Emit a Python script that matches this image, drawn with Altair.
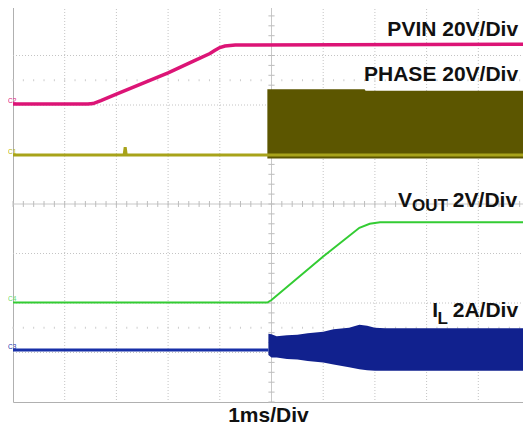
import altair as alt
import pandas as pd

# ---- traces, in screen divisions (x: 0..10 div, y: 0..8 div) ----
pvin_x = [0, 1.45, 1.55, 1.7, 2.0, 3.0, 3.5, 3.81, 3.9, 4.0, 4.1, 4.3, 10]
pvin_y = [6.02, 6.02, 6.03, 6.09, 6.22, 6.65, 6.89, 7.04, 7.1, 7.16, 7.19, 7.21, 7.23]

phase_x = [0, 2.15, 2.17, 2.19, 4.92, 10]
phase_y = [4.99, 4.99, 5.15, 4.99, 4.99, 4.99]
phase_band_x = [4.92, 6.8, 6.82, 10]
phase_band_top = [6.32, 6.32, 6.29, 6.29]
phase_band_bot = [4.92, 4.92, 4.92, 4.92]

vout_x = [0, 4.92, 5.0, 6.0, 6.7, 6.9, 7.1, 10]
vout_y = [2.01, 2.01, 2.06, 2.94, 3.52, 3.6, 3.63, 3.63]

il_x = [0, 4.94]
il_y = [1.05, 1.05]
il_band_x = [4.94, 5.0, 5.1, 5.3, 5.5, 5.7, 6.0, 6.2, 6.5, 6.7, 6.85, 7.0, 7.2, 10]
il_band_top = [1.38, 1.37, 1.33, 1.35, 1.36, 1.39, 1.42, 1.47, 1.5, 1.56, 1.54, 1.5, 1.49, 1.49]
il_band_bot = [0.95, 0.9, 0.9, 0.87, 0.86, 0.83, 0.8, 0.76, 0.7, 0.66, 0.64, 0.63, 0.63, 0.63]

# ---- grid ----
grid_x = [1, 2, 3, 4, 6, 7, 8, 9]
grid_y = [1, 2, 3, 5, 6, 7]
minor_x = [i / 5 for i in range(51)]
minor_y = [i / 5 for i in range(41)]

# ---- texts ----
label_text = ["PVIN 20V/Div", "PHASE 20V/Div", "2V/Div", "2A/Div"]
label_x = [9.77, 9.77, 9.75, 9.77]
label_y = [7.39, 6.48, 3.945, 1.71]
main_letter = ["V", "I"]
main_letter_x = [7.72, 8.22]
main_letter_y = [3.945, 1.71]
sub_text = ["OUT", "L"]
sub_x = [7.72, 8.21]
sub_y = [3.86, 1.576]
chan_text = ["C2", "C1", "C4", "C3"]
chan_y = [6.04, 5.02, 2.04, 1.08]
chan_color = ["#E0157A", "#B8B400", "#66DD66", "#2233AA"]

W, H = 517, 396
xs = alt.Scale(domain=[0, 10], nice=False, zero=False)
ys = alt.Scale(domain=[0, 8], nice=False, zero=False)


def X(f):
    return alt.X(f, type="quantitative", scale=xs, axis=None)


def Y(f):
    return alt.Y(f, type="quantitative", scale=ys, axis=None)


gx = alt.Chart(pd.DataFrame({"x": grid_x})).mark_rule(
    color="#C4C4C4", strokeWidth=1, strokeDash=[1, 2]).encode(x=X("x"))
gy = alt.Chart(pd.DataFrame({"y": grid_y})).mark_rule(
    color="#C4C4C4", strokeWidth=1, strokeDash=[1, 2]).encode(y=Y("y"))
cx = alt.Chart(pd.DataFrame({"x": [5]})).mark_rule(
    color="#C8C8C8", strokeWidth=1).encode(x=X("x"))
cy = alt.Chart(pd.DataFrame({"y": [4]})).mark_rule(
    color="#C8C8C8", strokeWidth=1).encode(y=Y("y"))

tick_h = pd.DataFrame({"x": minor_x, "y1": [3.94] * len(minor_x), "y2": [4.06] * len(minor_x)})
tick_h2 = pd.DataFrame({
    "x": minor_x * 2,
    "y1": [6.48] * len(minor_x) + [1.48] * len(minor_x),
    "y2": [6.52] * len(minor_x) + [1.52] * len(minor_x),
})
tick_v = pd.DataFrame({"y": minor_y, "x1": [4.94] * len(minor_y), "x2": [5.06] * len(minor_y)})
th = alt.Chart(tick_h).mark_rule(color="#BDBDBD").encode(x=X("x"), y=Y("y1"), y2="y2")
th2 = alt.Chart(tick_h2).mark_rule(color="#CCCCCC").encode(x=X("x"), y=Y("y1"), y2="y2")
tv = alt.Chart(tick_v).mark_rule(color="#BDBDBD").encode(y=Y("y"), x=X("x1"), x2="x2")

phase_band = alt.Chart(pd.DataFrame({"x": phase_band_x, "t": phase_band_top, "b": phase_band_bot})
                       ).mark_area(color="#5C5600", opacity=1).encode(x=X("x"), y=Y("t"), y2="b")
phase_line = alt.Chart(pd.DataFrame({"x": phase_x, "y": phase_y})).mark_line(
    color="#A8A31A", strokeWidth=3).encode(x=X("x"), y=Y("y"))
il_band = alt.Chart(pd.DataFrame({"x": il_band_x, "t": il_band_top, "b": il_band_bot})
                    ).mark_area(color="#11218E", opacity=1).encode(x=X("x"), y=Y("t"), y2="b")
il_line = alt.Chart(pd.DataFrame({"x": il_x, "y": il_y})).mark_line(
    color="#1830A8", strokeWidth=3).encode(x=X("x"), y=Y("y"))
pvin_line = alt.Chart(pd.DataFrame({"x": pvin_x, "y": pvin_y})).mark_line(
    color="#DC1476", strokeWidth=3.5).encode(x=X("x"), y=Y("y"))
vout_line = alt.Chart(pd.DataFrame({"x": vout_x, "y": vout_y})).mark_line(
    color="#33CC33", strokeWidth=2).encode(x=X("x"), y=Y("y"))

font = "Liberation Sans"
labels = alt.Chart(pd.DataFrame({"x": label_x, "y": label_y, "t": label_text})).mark_text(
    font=font, fontSize=21, fontWeight="bold", align="right", baseline="alphabetic", color="#111111"
).encode(x=X("x"), y=Y("y"), text="t:N")
mains = alt.Chart(pd.DataFrame({"x": main_letter_x, "y": main_letter_y, "t": main_letter})).mark_text(
    font=font, fontSize=21, fontWeight="bold", align="right", baseline="alphabetic", color="#111111"
).encode(x=X("x"), y=Y("y"), text="t:N")
subs = alt.Chart(pd.DataFrame({"x": sub_x, "y": sub_y, "t": sub_text})).mark_text(
    font=font, fontSize=17, fontWeight="bold", align="left", baseline="alphabetic", color="#111111"
).encode(x=X("x"), y=Y("y"), text="t:N")
title = alt.Chart(pd.DataFrame({"x": [4.94], "y": [-0.395], "t": ["1ms/Div"]})).mark_text(
    font=font, fontSize=21, fontWeight="bold", align="center", baseline="alphabetic", color="#111111"
).encode(x=X("x"), y=Y("y"), text="t:N")
chans = alt.Chart(pd.DataFrame({"x": [-0.095] * 4, "y": chan_y, "t": chan_text, "c": chan_color})).mark_text(
    font=font, fontSize=6.5, align="left", baseline="alphabetic"
).encode(x=X("x"), y=Y("y"), text="t:N", color=alt.Color("c:N", scale=None))

chart = alt.layer(
    gx, gy, cx, cy, th, th2, tv,
    phase_band, phase_line, il_band, il_line, pvin_line, vout_line,
    labels, mains, subs, title, chans,
).properties(
    width=W, height=H,
    autosize=alt.AutoSizeParams(type="none"),
    padding={"left": 5, "top": -2, "right": -7, "bottom": 24},
).configure_view(stroke="#B0B0B0", strokeWidth=1)

chart.save("out.html", embed_options={"renderer": "svg", "actions": False})
